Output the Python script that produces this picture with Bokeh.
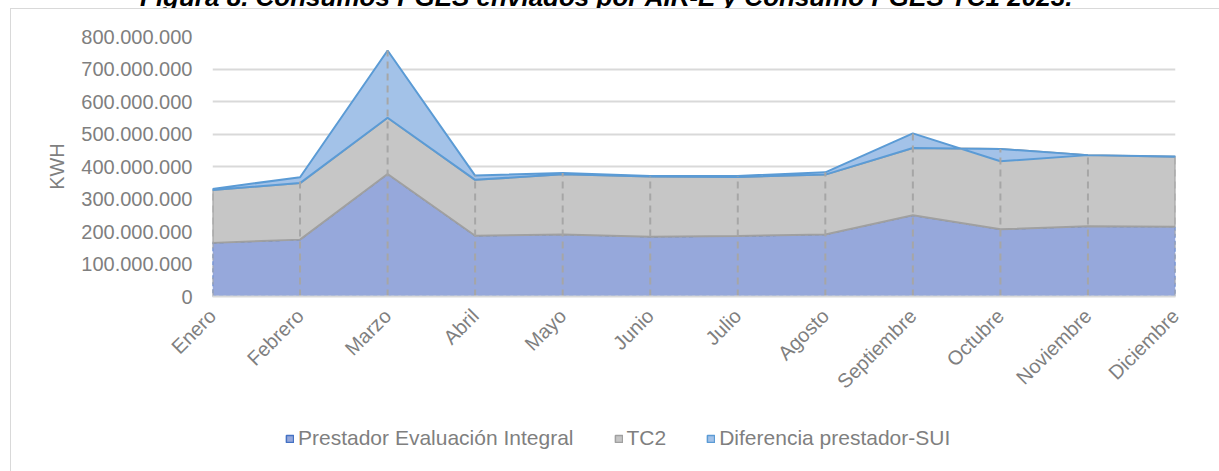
import numpy as np
from bokeh.plotting import figure
from bokeh.layouts import column
from bokeh.models import (Range1d, FixedTicker, CustomJSTickFormatter, Legend,
                          LegendItem, Div)
from bokeh.embed import file_html
from bokeh.resources import INLINE

# ---- data (kWh) ----
meses = ["Enero", "Febrero", "Marzo", "Abril", "Mayo", "Junio", "Julio",
         "Agosto", "Septiembre", "Octubre", "Noviembre", "Diciembre"]
prestador = [165_000_000, 175_000_000, 377_000_000, 187_000_000, 191_000_000, 184_000_000,
             186_000_000, 191_000_000, 250_000_000, 207_000_000, 216_000_000, 215_000_000]
tc2 = [163_000_000, 174_000_000, 173_000_000, 172_000_000, 185_000_000, 185_000_000,
       182_000_000, 184_000_000, 207_000_000, 247_000_000, 219_000_000, 215_000_000]
diferencia = [3_000_000, 18_000_000, 207_000_000, 13_000_000, 4_000_000, 2_000_000,
              3_000_000, 7_000_000, 45_000_000, -38_000_000, 0, 1_000_000]
y_ticks = [0, 100_000_000, 200_000_000, 300_000_000, 400_000_000,
           500_000_000, 600_000_000, 700_000_000, 800_000_000]
titulo = "Figura 8. Consumos PGES enviados por AIR-E y Consumo PGES TC1 2023."
series_names = ["Prestador Evaluación Integral", "TC2", "Diferencia prestador-SUI"]
fills = ["#96a8db", "#c6c6c6", "#a3c2e8"]
edges = ["#4472c4", "#a0a0a0", "#5b9bd5"]

x = np.arange(len(meses))
p_arr = np.array(prestador, dtype=float)
c1 = p_arr + np.array(tc2, dtype=float)
c2 = c1 + np.array(diferencia, dtype=float)
zero = np.zeros_like(p_arr)
top = np.maximum(c1, c2)
xs_closed = np.concatenate([x, x[::-1]])
polys = [np.concatenate([p_arr, zero[::-1]]),
         np.concatenate([c1, p_arr[::-1]]),
         np.concatenate([c2, c1[::-1]])]

W = 1219
HIDE = 54          # part of the title strip that lies above the page top
TXT = "#7f7f7f"
FONT = "Liberation Sans"

# ---------- title strip (only its lower edge is on the page) ----------
title_html = (
    f'<div style="position:relative;width:{W}px;height:{HIDE + 8}px;overflow:hidden;">'
    f'<span style="position:absolute;left:140px;top:{HIDE - 18}px;white-space:nowrap;'
    f"font-family:'{FONT}';font-size:26px;font-weight:bold;font-style:italic;"
    f'line-height:30px;color:black;">{titulo}</span></div>'
)
t = Div(text=title_html, width=W, height=HIDE + 8, margin=0)

# ---------- main chart ----------
p = figure(width=W, height=402, x_range=Range1d(0, len(meses) - 1),
           y_range=Range1d(y_ticks[0], y_ticks[-1]),
           output_backend="svg", toolbar_location=None,
           min_border_left=212, min_border_right=44,
           min_border_top=28, min_border_bottom=114)
p.outline_line_color = None
p.background_fill_color = "white"
p.border_fill_alpha = 0

p.xgrid.grid_line_color = None
p.ygrid.grid_line_color = "#d9d9d9"
p.ygrid.grid_line_width = 2
p.ygrid.ticker = FixedTicker(ticks=y_ticks)

p.patch(xs_closed, polys[0], fill_color=fills[0], line_color=edges[0],
        line_width=1.5, line_dash="4 3")
p.patch(xs_closed, polys[1], fill_color=fills[1], line_color=edges[1], line_width=2)
p.patch(xs_closed, polys[2], fill_color=fills[2], line_color=edges[2], line_width=2)

# drop lines
p.segment(x0=x, y0=zero, x1=x, y1=top, line_color="#a6a6a6", line_width=2, line_dash="7 5")

p.xaxis.ticker = FixedTicker(ticks=list(x))
p.xaxis.major_label_overrides = {int(i): m for i, m in zip(x, meses)}
p.xaxis.major_label_orientation = np.pi / 4
p.xaxis.major_label_text_font = FONT
p.xaxis.major_label_text_font_size = "20px"
p.xaxis.major_label_text_color = TXT
p.xaxis.major_label_standoff = 10
p.xaxis.axis_line_color = "#d9d9d9"
p.xaxis.axis_line_width = 2
p.xaxis.major_tick_line_color = None
p.xaxis.minor_tick_line_color = None

p.yaxis.ticker = FixedTicker(ticks=y_ticks)
p.yaxis.formatter = CustomJSTickFormatter(
    code="return Math.round(tick).toString().replace(/\\B(?=(\\d{3})+(?!\\d))/g, '.');")
p.yaxis.major_label_text_font = FONT
p.yaxis.major_label_text_font_size = "20px"
p.yaxis.major_label_text_color = TXT
p.yaxis.major_label_standoff = 14
p.yaxis.axis_line_color = None
p.yaxis.major_tick_line_color = None
p.yaxis.minor_tick_line_color = None
p.yaxis.axis_label = "KWH"
p.yaxis.axis_label_text_font = FONT
p.yaxis.axis_label_text_font_size = "20px"
p.yaxis.axis_label_text_font_style = "normal"
p.yaxis.axis_label_text_color = TXT
p.yaxis.axis_label_standoff = 10

# ---------- legend strip (its frame is aligned with the chart frame) ----------
lg = figure(width=W, height=61, x_range=Range1d(0, 1), y_range=Range1d(-2, -1),
            output_backend="svg", toolbar_location=None,
            x_axis_location=None, y_axis_location=None, min_border=0)
lg.grid.visible = False
lg.outline_line_color = None
lg.background_fill_alpha = 0
lg.border_fill_alpha = 0
items = []
for name, poly, fc, lc in zip(series_names, polys, fills, edges):
    r = lg.patch(xs_closed, poly, fill_color=fc, line_color=lc, line_width=1.5)
    items.append(LegendItem(label=name, renderers=[r]))
lg.add_layout(Legend(items=items, orientation="horizontal", location=(73, 21),
                     glyph_width=9, glyph_height=9, label_standoff=4, spacing=40,
                     padding=0, margin=0, border_line_color=None, background_fill_alpha=0,
                     label_text_font=FONT, label_text_font_size="21px",
                     label_text_color=TXT))

root = column(t, p, lg, spacing=0)
root.styles = {
    "margin-top": f"-{HIDE}px",
    "background-color": "white",
    "background-image": "linear-gradient(#d9d9d9, #d9d9d9), linear-gradient(#d9d9d9, #d9d9d9)",
    "background-size": "1px 100%, 100% 1px",
    "background-position": f"10px {8 + HIDE}px, 10px {8 + HIDE}px",
    "background-repeat": "no-repeat",
}

open("out.html", "w").write(file_html(root, INLINE))
